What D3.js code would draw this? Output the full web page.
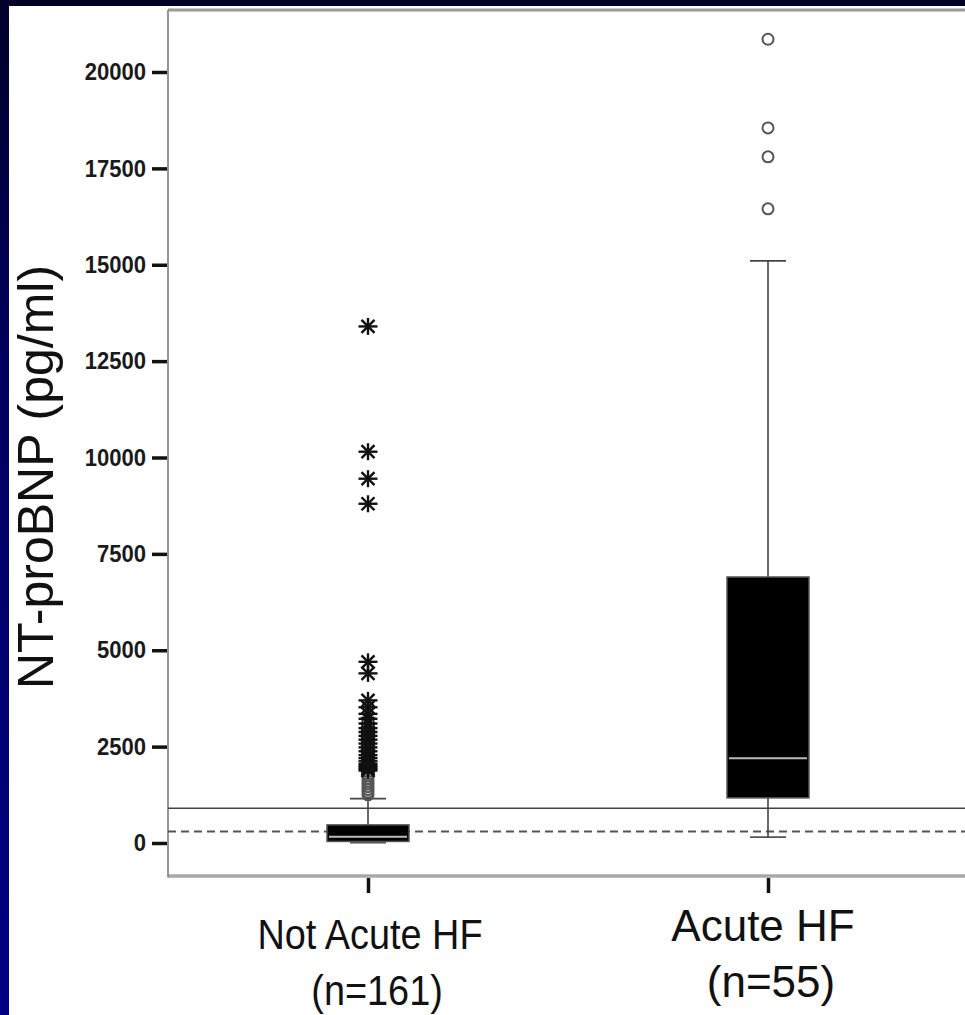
<!DOCTYPE html>
<html>
<head>
<meta charset="utf-8">
<script src="https://cdn.jsdelivr.net/npm/d3@7"></script>
<style>
  html, body { margin: 0; padding: 0; background: #000080; }
  svg { display: block; }
</style>
</head>
<body>
<svg id="chart" width="965" height="1015"></svg>
<script>
// ---- data ----
const categories = ["Not Acute HF", "Acute HF"];
const groupSizes = ["(n=161)", "(n=55)"];
const whiskerLow = [10, 150];
const q1Values = [40, 1170];
const medians = [160, 2200];
const q3Values = [470, 6900];
const whiskerHigh = [1150, 15100];
const mildOutliersNotAcute = [1250, 1320, 1390, 1460, 1530, 1600, 1680, 1760];
const extremeOutliersNotAcute = [1880, 1920, 1960, 2000, 2050, 2120, 2200, 2280, 2380, 2480, 2580, 2680, 2780, 2880, 2980, 3100, 3220, 3350, 3520, 3700, 4400, 4700, 8800, 9450, 10150, 13400];
const mildOutliersAcute = [16450, 17800, 18550, 20850];
const cutoffSolid = 900;
const cutoffDashed = 300;
const yTicks = [0, 2500, 5000, 7500, 10000, 12500, 15000, 17500, 20000];
const yLabel = "NT-proBNP (pg/ml)";

// ---- layout ----
const W = 965, H = 1015;
const plotLeft = 168, plotTop = 10, plotBottom = 876, plotRight = 968;
const svg = d3.select("#chart");

const defs = svg.append("defs");
const grad = defs.append("linearGradient").attr("id", "bg").attr("x1", 0).attr("y1", 0).attr("x2", 0).attr("y2", 1);
grad.append("stop").attr("offset", "0%").attr("stop-color", "#000028");
grad.append("stop").attr("offset", "35%").attr("stop-color", "#00005e");
grad.append("stop").attr("offset", "100%").attr("stop-color", "#000085");
svg.append("rect").attr("width", W).attr("height", H).attr("fill", "url(#bg)");
svg.append("rect").attr("x", 9).attr("y", 6).attr("width", W - 9).attr("height", H - 6).attr("fill", "#ffffff");

const y = d3.scaleLinear().domain([0, 20000]).range([843, 72]);
const x = d3.scalePoint().domain(categories).range([plotLeft, plotRight]).padding(0.5);

// frame
svg.append("line").attr("x1", plotLeft).attr("x2", W).attr("y1", plotTop).attr("y2", plotTop)
  .attr("stroke", "#9a9a9a").attr("stroke-width", 3);
svg.append("line").attr("x1", plotLeft).attr("x2", W).attr("y1", plotBottom).attr("y2", plotBottom)
  .attr("stroke", "#a8a8a8").attr("stroke-width", 3.5);
svg.append("line").attr("x1", plotLeft).attr("x2", plotLeft).attr("y1", plotTop).attr("y2", plotBottom + 1.5)
  .attr("stroke", "#8a8a8a").attr("stroke-width", 1.8);

// y axis
const yAxis = d3.axisLeft(y).tickValues(yTicks).tickSize(15).tickPadding(6).tickFormat(d3.format("d"));
const gy = svg.append("g").attr("transform", `translate(${plotLeft - 1},0)`).call(yAxis);
gy.select(".domain").remove();
gy.selectAll(".tick line").attr("stroke", "#111").attr("stroke-width", 3.5);
gy.selectAll(".tick text").attr("fill", "#1a1a1a")
  .style("font-family", "'Liberation Sans', Arial, sans-serif")
  .style("font-weight", "bold").style("font-size", "24px")
  .attr("transform", "scale(0.92,1)").attr("x", -21 / 0.92);

// x axis ticks
const xAxis = d3.axisBottom(x).tickSize(15).tickFormat("");
const gx = svg.append("g").attr("transform", `translate(0,${plotBottom + 2})`).call(xAxis);
gx.select(".domain").remove();
gx.selectAll(".tick line").attr("stroke", "#111").attr("stroke-width", 3.5);

// x labels: [dx, dy, fontSize, scaleX]
const labelStyle = [[2, 0, 43, 0.88], [-5, -8, 44, 1.0]];
categories.forEach((c, i) => {
  const [dx, dy, fs, sx] = labelStyle[i];
  const cx = x(c) + dx;
  const t = svg.append("text").attr("text-anchor", "middle")
    .attr("transform", `translate(${cx},0) scale(${sx},1)`)
    .style("font-family", "'Liberation Sans', Arial, sans-serif").style("font-size", fs + "px").attr("fill", "#111");
  t.append("tspan").attr("x", 0).attr("y", 949 + dy).text(c);
  t.append("tspan").attr("x", 8).attr("y", 1005 + dy).text(groupSizes[i]);
});

// y label
svg.append("text").attr("transform", "translate(53,477) rotate(-90)")
  .attr("text-anchor", "middle")
  .style("font-family", "'Liberation Sans', Arial, sans-serif").style("font-size", "50px")
  .attr("fill", "#111").text(yLabel);

// reference lines
svg.append("line").attr("x1", plotLeft).attr("x2", W).attr("y1", y(cutoffSolid)).attr("y2", y(cutoffSolid))
  .attr("stroke", "#444").attr("stroke-width", 1.6);
svg.append("line").attr("x1", plotLeft).attr("x2", W).attr("y1", y(cutoffDashed)).attr("y2", y(cutoffDashed))
  .attr("stroke", "#555").attr("stroke-width", 2).attr("stroke-dasharray", "8,5");

// boxes
const boxW = 82, capW = 36;
categories.forEach((c, i) => {
  const cx = x(c);
  const g = svg.append("g");
  g.append("line").attr("x1", cx).attr("x2", cx).attr("y1", y(whiskerHigh[i])).attr("y2", y(q3Values[i]))
    .attr("stroke", "#444").attr("stroke-width", 1.6);
  g.append("line").attr("x1", cx).attr("x2", cx).attr("y1", y(q1Values[i])).attr("y2", y(whiskerLow[i]))
    .attr("stroke", "#444").attr("stroke-width", 1.6);
  g.append("line").attr("x1", cx - capW / 2).attr("x2", cx + capW / 2).attr("y1", y(whiskerHigh[i])).attr("y2", y(whiskerHigh[i]))
    .attr("stroke", "#444").attr("stroke-width", 1.8);
  g.append("line").attr("x1", cx - capW / 2).attr("x2", cx + capW / 2).attr("y1", y(whiskerLow[i])).attr("y2", y(whiskerLow[i]))
    .attr("stroke", "#555").attr("stroke-width", 1.8);
  g.append("rect").attr("x", cx - boxW / 2).attr("width", boxW)
    .attr("y", y(q3Values[i])).attr("height", y(q1Values[i]) - y(q3Values[i]))
    .attr("fill", "#000").attr("stroke", "#555").attr("stroke-width", 1.5);
  g.append("line").attr("x1", cx - boxW / 2 + 2).attr("x2", cx + boxW / 2 - 2).attr("y1", y(medians[i])).attr("y2", y(medians[i]))
    .attr("stroke", "#bbb").attr("stroke-width", 2);
});

// outliers
function circles(vals, cat) {
  svg.append("g").selectAll("circle").data(vals).join("circle")
    .attr("cx", x(cat)).attr("cy", d => y(d)).attr("r", 5.5)
    .attr("fill", "none").attr("stroke", "#555").attr("stroke-width", 2);
}
function stars(vals, cat) {
  const arms = [[9.5, 0], [0, 8.5], [6.5, 6.5], [6.5, -6.5]];
  const g = svg.append("g").selectAll("g").data(vals).join("g")
    .attr("transform", d => `translate(${x(cat)},${y(d)})`);
  arms.forEach(a => {
    g.append("line").attr("x1", -a[0]).attr("x2", a[0]).attr("y1", -a[1]).attr("y2", a[1])
      .attr("stroke", "#111").attr("stroke-width", 2.4);
  });
}
circles(mildOutliersNotAcute, categories[0]);
stars(extremeOutliersNotAcute, categories[0]);
circles(mildOutliersAcute, categories[1]);
</script>
</body>
</html>
